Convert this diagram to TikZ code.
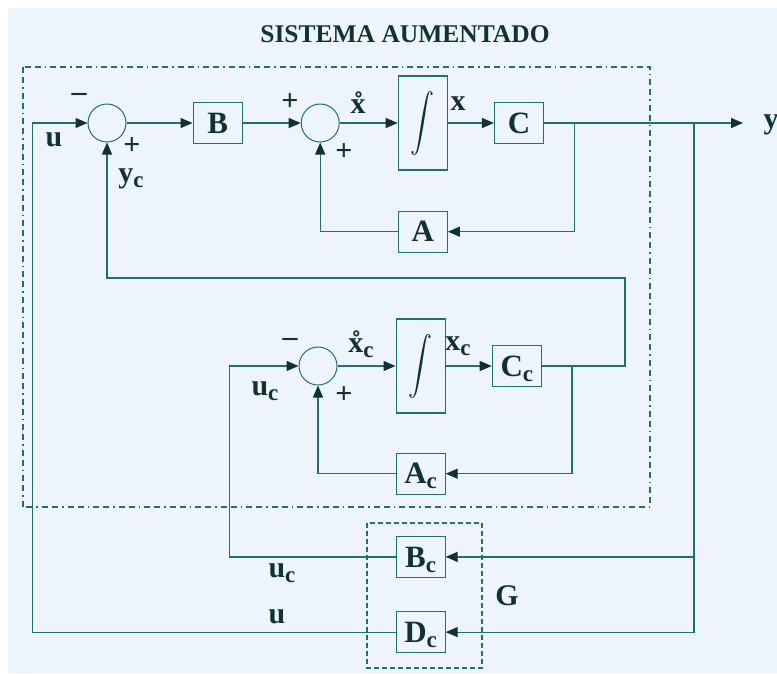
\documentclass[tikz,border=0pt]{standalone}
\usepackage{fontspec}
\setmainfont{Liberation Serif}
\usepackage{xcolor}
\usetikzlibrary{positioning,arrows.meta}
\definecolor{linec}{RGB}{30,112,114}
\definecolor{textc}{RGB}{16,50,52}
\definecolor{bgc}{RGB}{238,244,251}
\newcommand{\subc}[1]{\raisebox{-5pt}[0pt][0pt]{\fontsize{23}{23}\selectfont #1}}

\begin{document}
\begin{tikzpicture}[
  x=1pt, y=-1pt,
  >={Triangle[length=12pt,width=10pt,color=textc]},
  block/.style={draw=linec, line width=1.2pt, minimum width=49pt, minimum height=41pt, inner sep=0pt, text=textc, font=\bfseries\fontsize{31}{31}\selectfont},
  intg/.style={block, minimum height=94pt, font=\fontsize{10}{10}\selectfont},
  sum/.style={draw=linec, line width=1pt, circle, minimum size=38pt, inner sep=0pt},
  lbl/.style={text=textc, inner sep=0pt, anchor=base, font=\bfseries\fontsize{30}{30}\selectfont},
  sgn/.style={text=textc, inner sep=0pt, font=\bfseries\fontsize{30}{30}\selectfont},
  link/.style={draw=linec, line width=1.2pt, ->},
  sysbox/.style={draw=linec, line width=1.1pt, dash pattern=on 6pt off 4pt on 6pt off 4pt on 1.5pt off 4pt},
  gbox/.style={draw=linec, line width=1.1pt, dash pattern=on 5pt off 3pt}
]
\fill[bgc] (8,8) rectangle (777,673);
\useasboundingbox (0,0) rectangle (777,673);

\draw[sysbox] (23,67) rectangle (650,507);
\draw[gbox] (367,523) rectangle (482,668);

\node[sum] (sum1) at (107,123) {};
\node[block, right=66pt of sum1] (B) {B};
\node[sum, right=58pt of B] (sum2) {};
\node[intg, right=58pt of sum2] (int1) {\resizebox*{24pt}{64pt}{$\displaystyle\int$}};
\node[block, right=46pt of int1] (C) {C};
\node[block, below=40pt of int1] (A) {A};

\node[sum] (sum3) at (318,366) {};
\node[intg, right=58pt of sum3] (int2) {\resizebox*{24pt}{64pt}{$\displaystyle\int$}};
\node[block, right=46pt of int2] (Cc) {C\subc{c}};
\node[block, below=39pt of int2] (Ac) {A\subc{c}};
\node[block, below=41pt of Ac] (Bc) {B\subc{c}};
\node[block, below=33pt of Bc] (Dc) {D\subc{c}};

\coordinate (yend) at (743,123);
\coordinate (ybranch) at (694,123);
\coordinate (ycturn) at (625,278);

\draw[link] (sum1) -- (B);
\draw[link] (B) -- (sum2);
\draw[link] (sum2) -- (int1);
\draw[link] (int1) -- (C);
\draw[link] (C) -- (yend);
\draw[link] ([xshift=30pt]C.east) |- (A);
\draw[link] (A) -| (sum2);

\draw[link] (sum3) -- (int2);
\draw[link] (int2) -- (Cc);
\draw[link] ([xshift=30pt]Cc.east) |- (Ac);
\draw[link] (Ac) -| (sum3);
\draw[link] (Cc.east) -| (ycturn) -| (sum1);

\draw[link] (ybranch) |- (Bc);
\draw[link] (ybranch) |- (Dc);
\draw[link] (Bc) -| ([xshift=-69pt]sum3.west) -- (sum3);
\draw[link] (Dc) -| ([xshift=-55pt]sum1.west) -- (sum1);

\node[lbl, font=\bfseries\fontsize{25.5}{25.5}\selectfont] (title) at (405,42) {SISTEMA AUMENTADO};
\node[sgn] (m1) at (79,97) {\textendash};
\node[lbl] (u1) at (54,146) {u};
\node[sgn] (p1) at (132,146) {+};
\node[lbl] (yc) at (131,182) {y\subc{c}};
\node[sgn] (p2) at (290,102) {+};
\node[sgn] (p3) at (344,152) {+};
\node[lbl] (xd) at (358,113) {\r{x}};
\node[lbl] (x) at (458,110) {x};
\node[lbl] (y) at (771,128) {y};
\node[sgn] (m2) at (290,342) {\textendash};
\node[lbl] (uc1) at (265,395) {u\subc{c}};
\node[sgn] (p4) at (344,395) {+};
\node[lbl] (xcd) at (361,352) {\r{x}\subc{c}};
\node[lbl] (xc) at (458,350) {x\subc{c}};
\node[lbl] (uc2) at (282,577) {u\subc{c}};
\node[lbl] (u2) at (277,623) {u};
\node[lbl] (G) at (507,605) {G};
\end{tikzpicture}
\end{document}
